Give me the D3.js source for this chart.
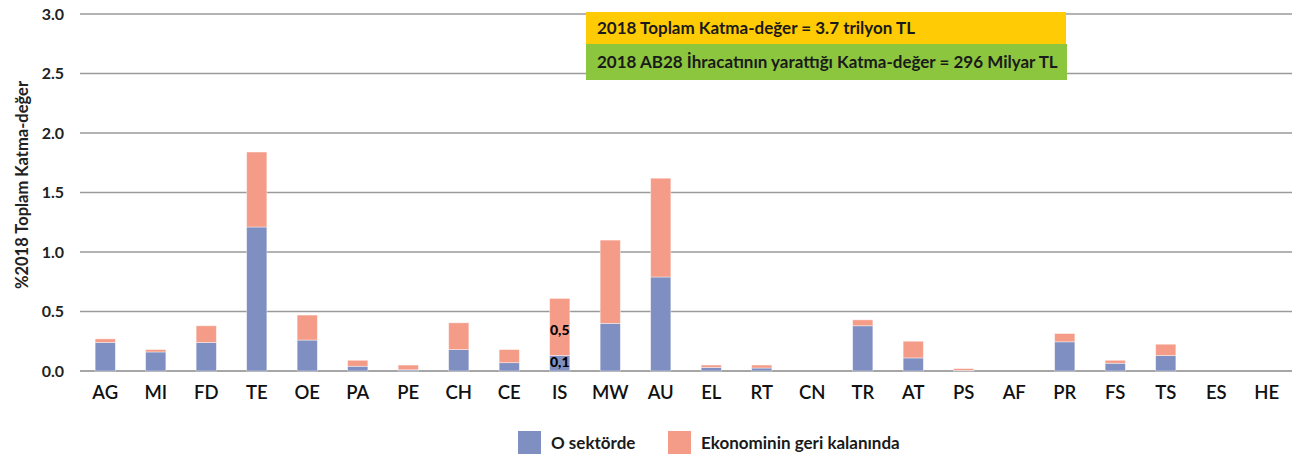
<!DOCTYPE html>
<html>
<head>
<meta charset="utf-8">
<script src="https://cdn.jsdelivr.net/npm/d3@7"></script>
<style>
  body { margin: 0; background: #fff; }
  svg { font-family: Lato, "Open Sans", sans-serif; }
</style>
</head>
<body>
<svg width="1298" height="458"></svg>
<script>
// sector codes along the x axis
var sectors = ["AG","MI","FD","TE","OE","PA","PE","CH","CE","IS","MW","AU","EL","RT","CN","TR","AT","PS","AF","PR","FS","TS","ES","HE"];
// value added inside the sector itself
var inSector = [0.24,0.16,0.24,1.21,0.26,0.04,0.01,0.18,0.07,0.13,0.40,0.79,0.03,0.025,0,0.38,0.11,0.005,0,0.245,0.065,0.13,0,0];
// value added in the rest of the economy
var restEconomy = [0.03,0.02,0.14,0.63,0.21,0.05,0.04,0.225,0.11,0.48,0.70,0.83,0.02,0.025,0,0.05,0.14,0.015,0,0.07,0.025,0.095,0,0];
var yTicks = [0, 0.5, 1.0, 1.5, 2.0, 2.5, 3.0];
var seriesNames = ["O sektörde", "Ekonominin geri kalanında"];
var colors = ["#7f8fc1", "#f59c88"];

var svg = d3.select("svg"),
    margin = {left: 80, right: 6, top: 14, bottom: 87},
    width = +svg.attr("width"),
    height = +svg.attr("height");

var rows = sectors.map(function(s, i) {
  return {sector: s, a: inSector[i], b: restEconomy[i]};
});

var x = d3.scaleBand().domain(sectors).range([margin.left, width - margin.right]).paddingInner(0.6).paddingOuter(0.3);
var y = d3.scaleLinear().domain([0, 3]).range([height - margin.bottom, margin.top]);

// gridlines
svg.append("g").selectAll("line").data(yTicks).join("line")
  .attr("x1", margin.left).attr("x2", width - margin.right)
  .attr("y1", function(d) { return y(d); }).attr("y2", function(d) { return y(d); })
  .attr("stroke", function(d) { return d === 0 ? "#888" : "#9a9a9a"; })
  .attr("stroke-width", 1.5);

// y tick labels
svg.append("g").selectAll("text").data(yTicks).join("text")
  .attr("x", 64).attr("y", function(d) { return y(d); })
  .attr("dy", "0.35em").attr("text-anchor", "end")
  .attr("font-size", 16).attr("font-weight", "bold").attr("fill", "#222")
  .text(function(d) { return d3.format(".1f")(d); });

// y title
svg.append("text")
  .attr("transform", "translate(28,185) rotate(-90)")
  .attr("text-anchor", "middle").attr("font-size", 16.5).attr("font-weight", "bold").attr("fill", "#222")
  .text("%2018 Toplam Katma-değer");

// stacked bars
var stack = d3.stack().keys(["a", "b"])(rows);
svg.append("g").selectAll("g").data(stack).join("g")
  .attr("fill", function(d, i) { return colors[i]; })
  .selectAll("rect").data(function(d) { return d; }).join("rect")
  .attr("x", function(d) { return x(d.data.sector); })
  .attr("width", x.bandwidth())
  .attr("y", function(d) { return y(d[1]); })
  .attr("height", function(d) { return y(d[0]) - y(d[1]); })
  .attr("stroke", "#fff").attr("stroke-opacity", 0.5).attr("stroke-width", 0.8);

// x axis labels
var xAxis = svg.append("g")
  .attr("transform", "translate(0," + (height - margin.bottom) + ")")
  .call(d3.axisBottom(x).tickSize(0).tickPadding(15));
xAxis.select(".domain").remove();
xAxis.selectAll("text").attr("font-size", 18.5).attr("font-family", "Lato, sans-serif").attr("fill", "#111").attr("font-weight", 600);

// annotations on IS bar
svg.append("text").attr("x", x("IS") + x.bandwidth() / 2).attr("y", 335)
  .attr("text-anchor", "middle").attr("font-size", 14).attr("font-weight", 900).text("0,5");
svg.append("text").attr("x", x("IS") + x.bandwidth() / 2).attr("y", 367)
  .attr("text-anchor", "middle").attr("font-size", 14).attr("font-weight", 900).text("0,1");

// info boxes
var boxes = [
  {text: "2018 Toplam Katma-değer = 3.7 trilyon TL", color: "#ffcb05", y: 12, h: 32, w: 480},
  {text: "2018 AB28 İhracatının yarattığı Katma-değer = 296 Milyar TL", color: "#8cc63f", y: 44, h: 36, w: 481}
];
var bx = svg.append("g").selectAll("g").data(boxes).join("g")
  .attr("transform", function(d) { return "translate(586," + d.y + ")"; });
bx.append("rect").attr("width", function(d) { return d.w; }).attr("height", function(d) { return d.h; })
  .attr("fill", function(d) { return d.color; });
bx.append("text").attr("x", 11).attr("y", function(d) { return d.h / 2; }).attr("dy", "0.35em")
  .attr("font-size", 17).attr("font-weight", "bold").attr("fill", "#1a1a1a")
  .text(function(d) { return d.text; });

// legend
var legendX = [518, 668];
var lg = svg.append("g").selectAll("g").data(seriesNames).join("g")
  .attr("transform", function(d, i) { return "translate(" + legendX[i] + ",431)"; });
lg.append("rect").attr("width", 23).attr("height", 23).attr("fill", function(d, i) { return colors[i]; });
lg.append("text").attr("x", 33).attr("y", 12).attr("dy", "0.35em")
  .attr("font-size", 17).attr("font-weight", "bold").attr("fill", "#1a1a1a")
  .text(function(d) { return d; });
</script>
</body>
</html>
